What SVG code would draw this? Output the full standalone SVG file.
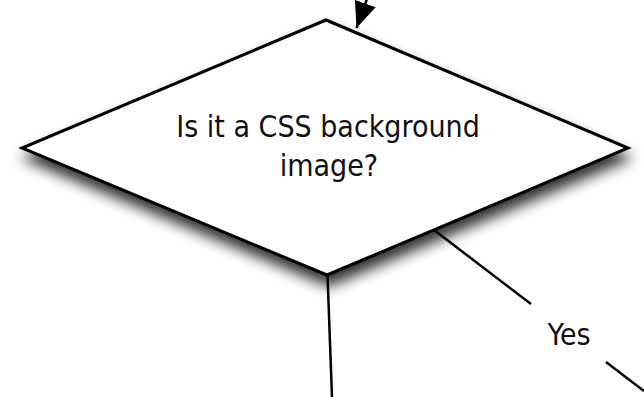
<svg xmlns="http://www.w3.org/2000/svg" width="644" height="397" viewBox="0 0 644 397">
  <style>
    .edge { fill: none; stroke: #000; stroke-width: 2.5; }
    .shape { fill: #fff; stroke: #000; stroke-width: 3; stroke-linejoin: miter; }
    .label { font-family: "DejaVu Sans Condensed", "DejaVu Sans", sans-serif; font-stretch: condensed; font-size: 30px; fill: #111; text-anchor: middle; }
  </style>
  <defs>
    <filter id="shadow" x="-20%" y="-20%" width="140%" height="160%">
      <feDropShadow dx="2" dy="10" stdDeviation="7" flood-color="#000" flood-opacity="0.8"/>
    </filter>
    <marker id="arrow" markerUnits="userSpaceOnUse" markerWidth="28" markerHeight="24" refX="26" refY="11" orient="auto">
      <path d="M0,0 L26,11 L0,22 z" fill="#000"/>
    </marker>
  </defs>
  <g id="connectors">
    <path class="edge" d="M368,-4 L356.5,28" marker-end="url(#arrow)"/>
    <path class="edge" d="M327.5,275 L332,397"/>
    <path class="edge" d="M434,230 L531,304"/>
    <path class="edge" d="M606,362 L644,391"/>
  </g>
  <g id="decision">
    <polygon class="shape" filter="url(#shadow)" points="326,20 628,148 327,275 22,148"/>
    <text class="label" x="328" y="137">Is it a CSS background</text>
    <text class="label" x="329" y="176">image?</text>
  </g>
  <g id="yes-label">
    <text class="label" x="569" y="345">Yes</text>
  </g>
</svg>
